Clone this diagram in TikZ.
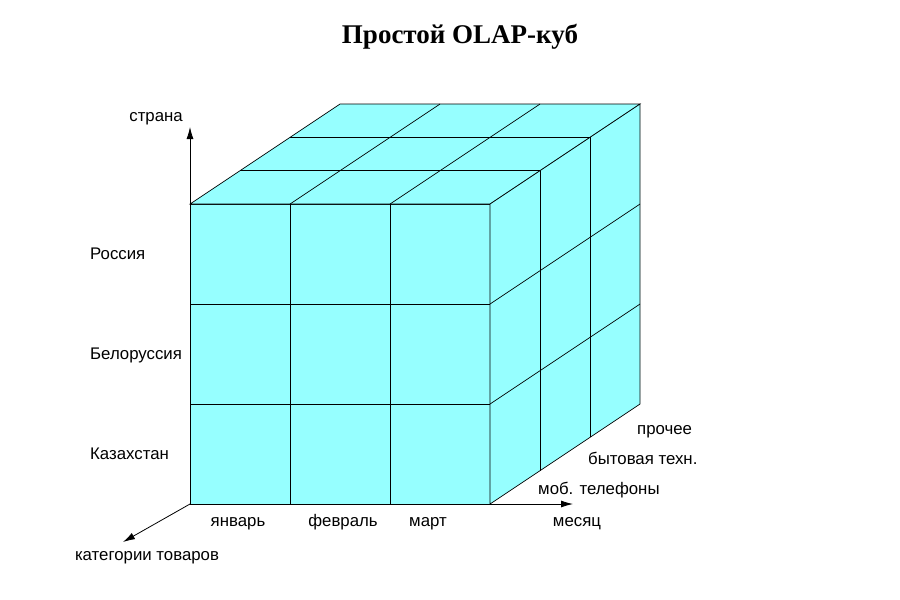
\documentclass[tikz,border=0pt]{standalone}
\usepackage{fontspec}
\setmainfont{Liberation Sans}
\newfontfamily\titlefont{Liberation Serif}
\usetikzlibrary{arrows.meta}

\definecolor{cubecyan}{RGB}{150,255,255}

\tikzset{
  lbl/.style={font=\fontsize{16.8}{19}\selectfont, inner sep=0pt},
  axis/.style={-{Latex[length=12pt,width=7pt]}, line width=0.8pt},
  edge/.style={line width=0.7pt}
}

\begin{document}
\begin{tikzpicture}[x=1pt,y=-1pt]
\useasboundingbox (0,0) rectangle (900,600);

% title
\node[font=\titlefont\bfseries\fontsize{27}{30}\selectfont] (title) at (460,37) {Простой OLAP-куб};

% faces
\filldraw[edge,fill=cubecyan] (190,204) rectangle (490,504);
\filldraw[edge,fill=cubecyan] (190,204) -- (340,104) -- (640,104) -- (490,204) -- cycle;
\filldraw[edge,fill=cubecyan] (490,204) -- (640,104) -- (640,404) -- (490,504) -- cycle;

% grid lines
\foreach \i in {1,2} {
  \draw[edge] (190+100*\i,204) -- (190+100*\i,504);
  \draw[edge] (190,204+100*\i) -- (490,204+100*\i);
  \draw[edge] (190+100*\i,204) -- (340+100*\i,104);
  \draw[edge] (190+50*\i,204-33.33*\i) -- (490+50*\i,204-33.33*\i);
  \draw[edge] (490+50*\i,204-33.33*\i) -- (490+50*\i,504-33.33*\i);
  \draw[edge] (490,204+100*\i) -- (640,104+100*\i);
}

% axes
\coordinate (O) at (190,504);
\coordinate (C) at (490,504);
\coordinate (up) at (190,127);
\coordinate (right) at (573,504);
\coordinate (diag) at (123,542);
\draw[axis] (O) -- (up);
\draw[axis] (C) -- (right);
\draw[axis] (O) -- (diag);

% labels
\node[lbl,anchor=base east] (strana) at (183,121) {страна};
\node[lbl,anchor=base west] (ru) at (90,259) {Россия};
\node[lbl,anchor=base west] (by) at (90,359) {Белоруссия};
\node[lbl,anchor=base west] (kz) at (90,459) {Казахстан};
\node[lbl,anchor=base] (jan) at (238,526) {январь};
\node[lbl,anchor=base] (feb) at (343,526) {февраль};
\node[lbl,anchor=base] (mar) at (428,526) {март};
\node[lbl,anchor=base] (month) at (577,526) {месяц};
\node[lbl,anchor=base west] (other) at (637,434) {прочее};
\node[lbl,anchor=base west] (home) at (588,464) {бытовая техн.};
\node[lbl,anchor=base west] (mob) at (538,494) {моб. телефоны};
\node[lbl,anchor=base] (cat) at (147,560) {категории товаров};

\end{tikzpicture}
\end{document}
